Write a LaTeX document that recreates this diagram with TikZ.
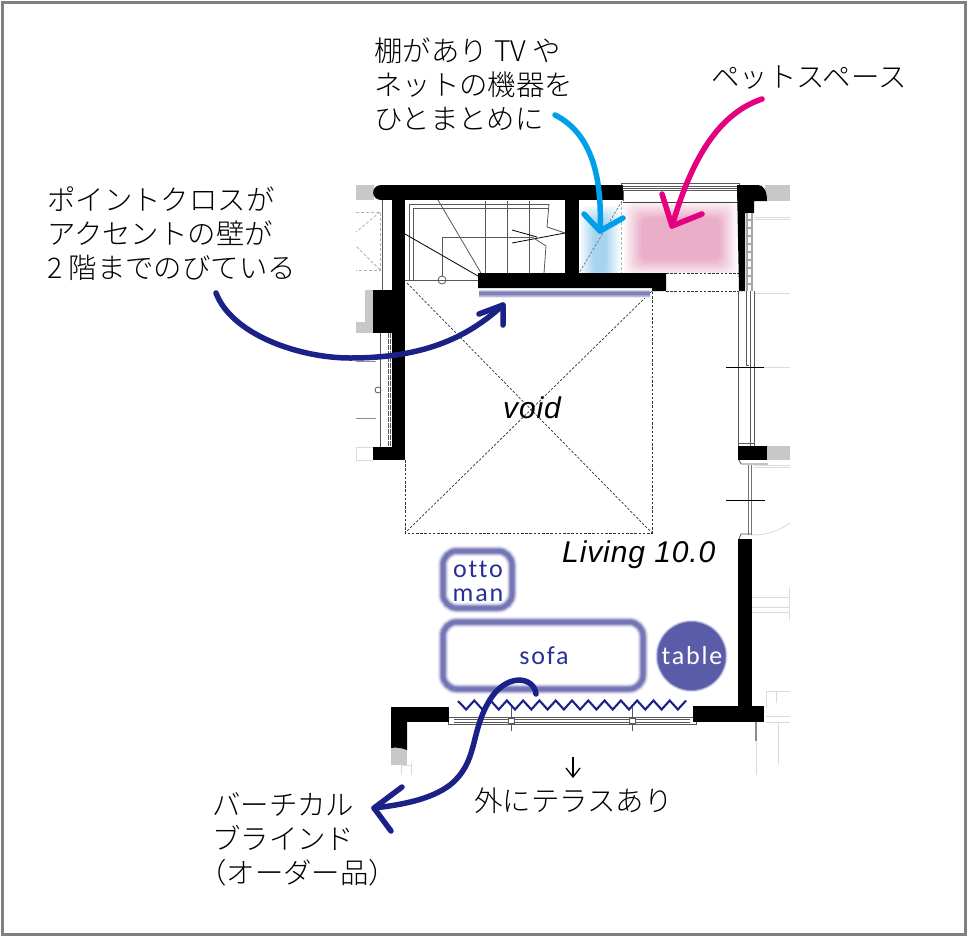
\documentclass[tikz,border=0pt]{standalone}
\usepackage{fontspec}
\setmainfont{Liberation Sans}
\newfontfamily\jpf{Noto Sans CJK JP Light}
\newfontfamily\furf[LetterSpace=7,Ligatures=NoCommon]{Carlito}
\newfontfamily\roomf[LetterSpace=3]{Liberation Sans}
\definecolor{navy}{HTML}{1C2188}
\definecolor{sky}{HTML}{00A0E9}
\definecolor{mag}{HTML}{E4007F}
\definecolor{glow}{HTML}{5A5CA8}
\definecolor{furtext}{HTML}{2A2F95}
\definecolor{softblue}{HTML}{A6D3EE}
\definecolor{softpink}{HTML}{EAAEC8}
\definecolor{wallgray}{HTML}{C8C8C8}
\tikzset{
  x=1pt,y=-1pt,
  wall/.style={fill=black,draw=none},
  stub/.style={fill=wallgray,draw=none},
  thin line/.style={draw=black!65,line width=0.8pt},
  dark line/.style={draw=black,line width=0.8pt},
  faint/.style={draw=black!14,line width=0.9pt},
  dash line/.style={draw=black!80,line width=0.7pt,dash pattern=on 2.5pt off 1.7pt},
  pale dash/.style={draw=black!30,line width=0.8pt,dash pattern=on 3pt off 2pt},
  jptext/.style={font=\jpf\fontsize{28.4}{34}\selectfont,anchor=west,align=left,inner sep=0pt,text=black},
  roomtext/.style={font=\roomf\itshape\fontsize{30}{34}\selectfont,inner sep=0pt,text=black},
  furtextstyle/.style={font=\furf\fontsize{26}{24}\selectfont,inner sep=0pt,align=center},
  curvearrow/.style={line width=5.5pt,line cap=round,line join=round},
}
\newcommand{\softfill}[6]{% x1 y1 x2 y2 colour radius
  \foreach \i in {0,1,...,10}{
    \pgfmathsetmacro{\pc}{\i*10}
    \pgfmathsetmacro{\ins}{\i*#6/10}
    \fill[#5!\pc!white,rounded corners=8pt] (#1+\ins,#2+\ins) rectangle (#3-\ins,#4-\ins);
  }}
\newcommand{\glowbox}[4]{% x1 y1 x2 y2
  \foreach \w/\p in {11/6,10/12,9/20,8/30,7/42,6/55,5/68,4/78,3/85}{
    \draw[glow!\p!white,line width=\w pt,rounded corners=14pt] (#1,#2) rectangle (#3,#4);
  }}
\begin{document}
\begin{tikzpicture}
\useasboundingbox (0,0) rectangle (968,937);
\fill[white] (0,0) rectangle (968,937);
\draw[black!50,line width=3pt] (2.5,2.5) rectangle (965.5,934.5);

% soft colour zones
\softfill{578}{204}{622}{290}{softblue}{16}
\fill[white] (578,273) rectangle (622,292);
\softfill{622}{199}{739}{279}{softpink}{19}
\fill[white] (622,273) rectangle (739,281);

% gray wall stubs
\fill[stub] (356,185) rectangle (374,200);
\fill[stub] (365,290) rectangle (374,322);
\fill[stub] (356,322) rectangle (374,333);
\fill[stub] (765,185) rectangle (790,201);
\fill[stub] (755,446) rectangle (790,460);
\fill[stub] (391,748) rectangle (407,765);

% faint exterior details
\draw[pale dash] (356,212) -- (380,212) -- (380,270) -- (356,270);
\draw[pale dash] (380,212) -- (356,232);
\draw[pale dash] (380,270) -- (356,246);
\draw[faint] (356,447) -- (373,447) (356,460) -- (373,460) (356,447) -- (356,460);
\draw[faint] (754,217) -- (790,217) (754,219) -- (790,219) (754,293) -- (790,293);
\draw[faint] (754,367) -- (790,367);
\draw[faint] (754,465) -- (790,465) (754,467) -- (790,467);
\draw[faint] (752,535) .. controls (768,535) and (780,530) .. (790,523);
\draw[faint] (752,597) -- (790,597) (752,607) -- (790,607) (752,612) -- (790,612) (789,587) -- (789,620);
\draw[faint] (766,708) -- (766,691) -- (790,691) (776,691) -- (776,703) (766,716) -- (790,716) (766,722) -- (790,722);
\draw[faint] (778,722) -- (778,765);
\draw[faint] (756,740) -- (756,775);
\draw[black!45,line width=1.4pt] (756,722) -- (756,741);
\draw[faint] (401,763) -- (401,775) (411,763) -- (411,775) (401,765) -- (411,765);

% stairs
\draw[thin line] (409,280) -- (409,204) -- (549,204);
\draw[thin line] (413,280) -- (413,208) -- (549,208);
\draw[thin line] (485,201) -- (485,273) (507,201) -- (507,273) (529,201) -- (529,273);
\draw[thin line] (442,276) -- (442,237) -- (532,237);
\draw[thin line] (405,280) -- (478,280);
\draw[thin line] (442,280) circle (4pt);
\draw[thin line] (438,200) -- (481,273);
\draw[dark line] (405,234) -- (478,276);
\draw[dark line] (512,230) -- (537,237) (512,243) -- (565,233);
\draw[thin line] (549,204) -- (547,227) -- (565,233);
\draw[thin line] (532,237) -- (546,246) -- (544,273);

% void and dashed outlines
\draw[dash line] (407,283) -- (652,533);
\draw[dash line] (652,291) -- (405,533);
\draw[dash line] (405,460) -- (405,533) -- (652,533) -- (652,291);
\draw[dash line] (666,273) -- (739,273) (666,291) -- (739,291);
\draw[pale dash] (621,202) -- (621,273);
\draw[dash line,draw=black!55] (622,201) -- (579,273);

% windows
\draw[thin line] (621,183) rectangle (739,190);
\draw[thin line] (623,186) -- (737,186) (623,188) -- (737,188);
\draw[thin line] (623,190) -- (623,201) (737,190) -- (737,201);
\draw[black!75,line width=0.8pt] (623,202) -- (739,202);
\draw[thin line] (738,291) -- (738,446) (750,291) -- (750,446) (754,291) -- (754,446);
\draw[thin line] (746,291) -- (746,365) (746,365) -- (749,365);
\draw[dark line] (726,367) -- (764,367);
\draw[thin line] (738,443) -- (754,443);
\draw[black!55,line width=1pt] (748,465) -- (748,535) (751,465) -- (751,535);
\draw[dark line] (726,500) -- (765,500);
\draw[thin line] (739,460) -- (741,464) -- (748,464) -- (751,464) -- (768,464);
\draw[thin line] (739,539) -- (741,534) -- (752,534);
\draw[thin line] (382,200) -- (382,290);
\draw[thin line] (380,333) -- (380,447);
\draw[black!65,line width=3.5pt,dash pattern=on 5pt off 1pt] (389.5,333) -- (389.5,447);
\draw[white,line width=0.9pt] (389.5,333) -- (389.5,447);
\draw[thin line] (378,390) circle (3pt);
\draw[faint,draw=black!45] (356,361) -- (376,361) (356,418) -- (376,418);

% bottom window
\draw[thin line,fill=white] (448,717) rectangle (696,724);
\draw[thin line] (454,719.5) -- (690,719.5) (454,722) -- (690,722);
\draw[thin line] (511,707) -- (511,731) (632,707) -- (632,731);
\draw[thin line,fill=white] (508,718) rectangle (514,723);
\draw[thin line,fill=white] (629,718) rectangle (635,723);

% walls
\fill[wall,rounded corners=8pt] (373,200) -- (373,185) -- (390,185) -- (390,200) -- cycle;
\fill[wall] (382,185) rectangle (623,200);
\fill[wall] (392,185) rectangle (405,460);
\fill[wall] (373,290) rectangle (392,333);
\fill[wall] (373,447) rectangle (405,460);
\fill[wall] (565,185) rectangle (579,273);
\fill[wall] (478,273) -- (666,273) -- (666,291) -- (652,291) -- (652,288) -- (478,288) -- cycle;
\fill[wall] (737,185) -- (758,185) .. controls (763,185) and (767,190) .. (767,201) -- (754,201) -- (754,213) -- (745,213) -- (745,291) -- (739,291) -- cycle;
\draw[black!35,line width=7pt] (749.5,213) -- (749.5,291);
\draw[white,line width=3pt,dash pattern=on 6pt off 2pt] (749.5,213) -- (749.5,291);
\fill[wall] (738,446) rectangle (767,460);
\fill[wall] (738,539) rectangle (752,710);
\fill[wall] (693,706) rectangle (764,722);
\fill[wall] (391,707) rectangle (449,722);
\fill[wall] (391,707) -- (407,707) -- (407,750) .. controls (402,748) and (396,747) .. (391,748) -- cycle;

% accent wall line
\foreach \w/\p in {8/12,7/28,6/42,5/55,3.5/68,2.5/78}{
  \draw[glow!\p!white,line width=\w pt] (479,293.5) -- (650,293.5);
}

% furniture
\glowbox{443}{622}{643}{689}
\glowbox{443}{551}{512}{608}
\foreach \r/\p in {36/20,35/60,34/100}{
  \fill[glow!\p!white] (691.5,656) circle (\r pt);
}
\node[furtextstyle,text=furtext] (ottoman) at (478,581) {otto\\man};
\node[furtextstyle,text=furtext] (sofa) at (544,656) {sofa};
\node[furtextstyle,text=white] (tablelabel) at (692,656) {table};

% zigzag (vertical blind)
\draw[navy,line width=2.1pt] (458,701) \foreach \i in {1,...,28}{ -- ({458+\i*8.143},{705-4.5*cos(180*\i)}) };

% texts
\node[jptext] (shelf) at (374,84) {棚があり TV や\\ネットの機器を\\ひとまとめに};
\node[jptext] (pet) at (711,78) {ペットスペース};
\node[jptext] (accent) at (47,234) {ポイントクロスが\\アクセントの壁が\\2 階までのびている};
\node[jptext] (blind) at (198,839) {\hspace{14pt}バーチカル\\\hspace{14pt}ブラインド\\（オーダー品）};
\node[jptext] (terrace) at (474,801) {外にテラスあり};
\node[roomtext] (void) at (532,408) {void};
\node[roomtext,anchor=west] (living) at (562,555) {Living 10.0};

% arrows
\coordinate (a1s) at (216,293);
\coordinate (a1t) at (503,305);
\draw[curvearrow,navy] (a1s) .. controls (232,335) and (300,358) .. (350,358) .. controls (420,358) and (465,340) .. (a1t);
\draw[curvearrow,navy] (479,314) -- (a1t) -- (503,325);
\coordinate (a2s) at (555,115);
\coordinate (a2t) at (600,231);
\draw[curvearrow,sky] (a2s) .. controls (585,130) and (603,165) .. (a2t);
\draw[curvearrow,sky] (584,214) -- (a2t) -- (623,218);
\coordinate (a3s) at (762,99);
\coordinate (a3t) at (672,226);
\draw[curvearrow,mag] (a3s) .. controls (715,115) and (690,165) .. (a3t);
\draw[curvearrow,mag] (662,194) -- (a3t) -- (702,214);
\coordinate (a4s) at (536,694);
\coordinate (a4t) at (374,808);
\draw[curvearrow,navy] (a4s) .. controls (534,676) and (505,672) .. (488,703) .. controls (470,735) and (478,762) .. (450,785) .. controls (430,800) and (400,805) .. (a4t);
\draw[curvearrow,navy] (402,787) -- (a4t) -- (391,831);
\coordinate (a5s) at (573,757);
\coordinate (a5t) at (573,777);
\draw[black,line width=1.3pt] (a5s) -- (a5t);
\draw[black,line width=1.3pt] (566,768) -- (a5t) -- (580,768);
\end{tikzpicture}
\end{document}
